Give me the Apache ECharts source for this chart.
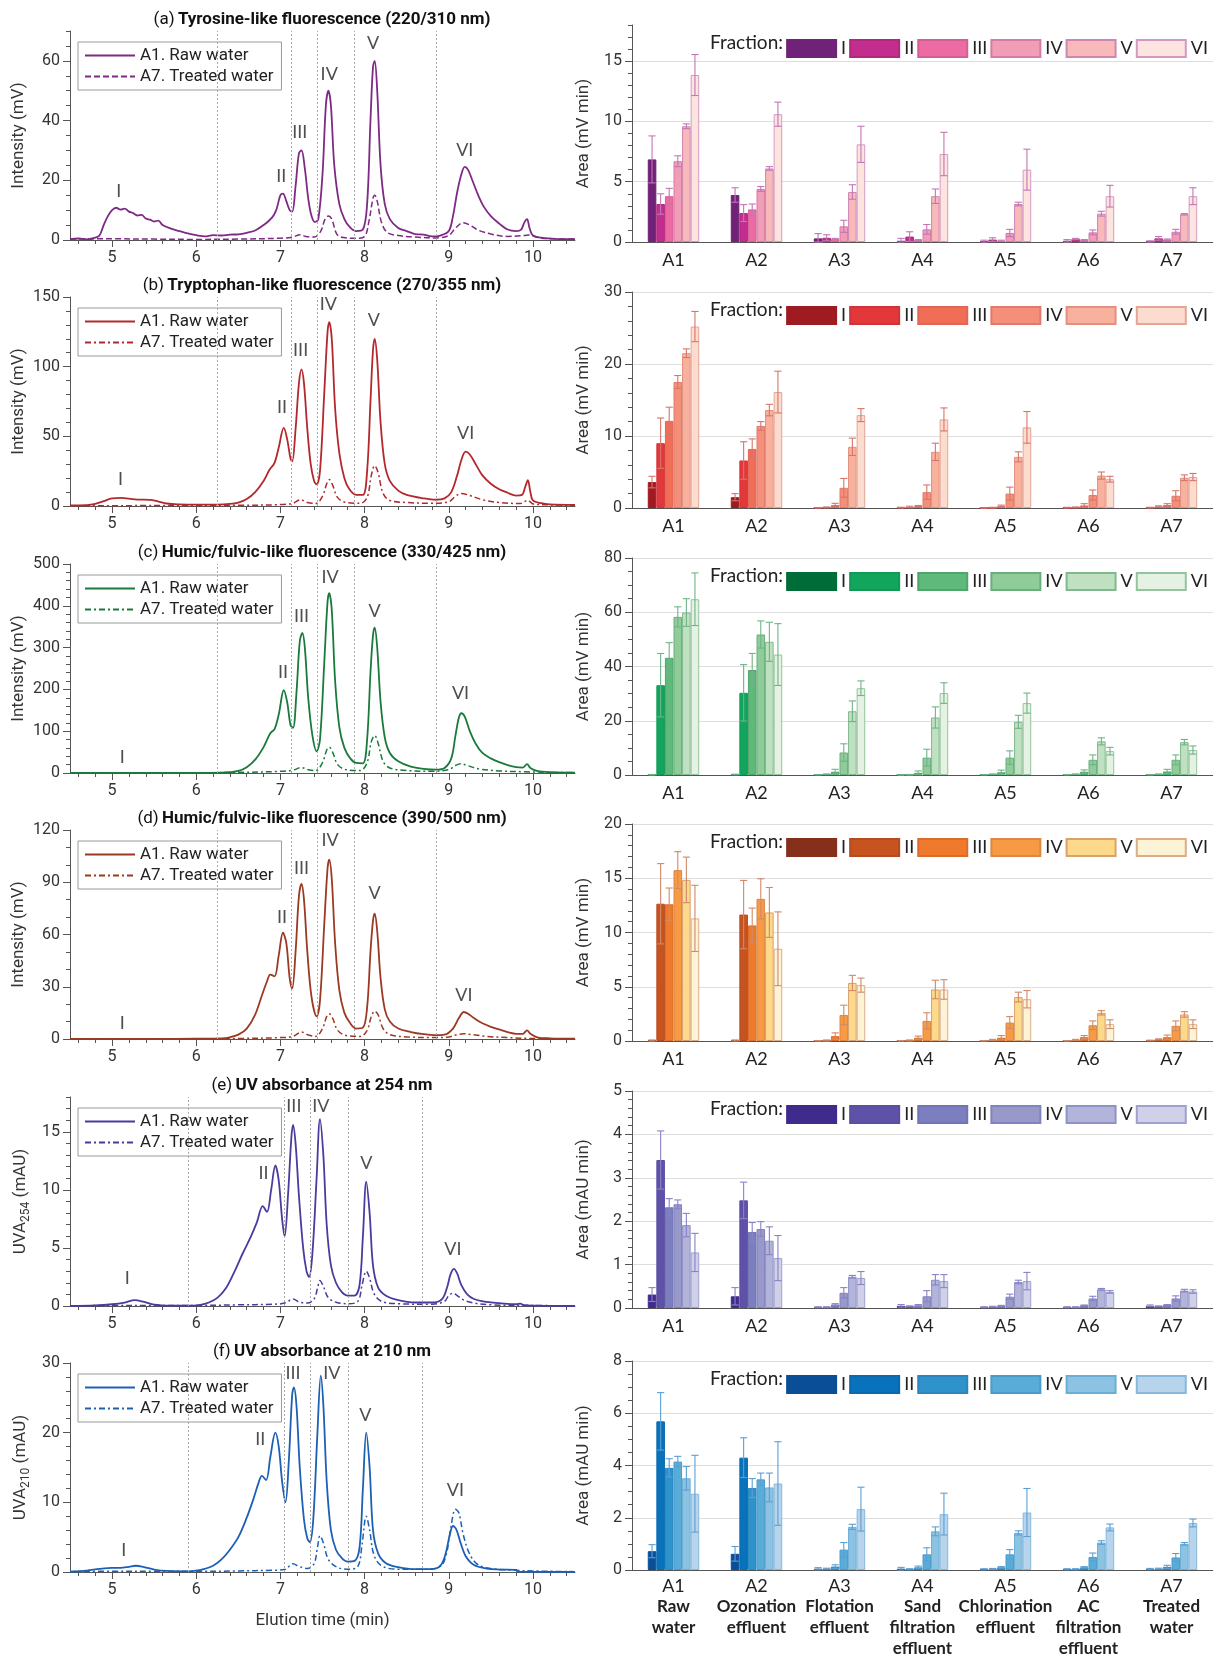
<!DOCTYPE html>
<html>
<head>
<meta charset="utf-8">
<script src="https://cdn.jsdelivr.net/npm/echarts@6/dist/echarts.min.js"></script>
<style>
  html, body { margin: 0; background: #fff; }
  #chart { width: 1213px; height: 1657px; }
</style>
</head>
<body>
<div id="chart"></div>
<script>
// ---- categories ----
const sites = ['A1', 'A2', 'A3', 'A4', 'A5', 'A6', 'A7'];
const siteNames = ['Raw\nwater', 'Ozonation\neffluent', 'Flotation\neffluent', 'Sand\nfiltration\neffluent',
    'Chlorination\neffluent', 'AC\nfiltration\neffluent', 'Treated\nwater'];
const fractions = ['I', 'II', 'III', 'IV', 'V', 'VI'];
const fluoCuts = [6.25, 7.13, 7.44, 7.88, 8.85];
const uvCuts = [5.9, 7.05, 7.35, 7.81, 8.68];
const timeTicks = [5, 6, 7, 8, 9, 10];

// ---- chromatograms [elution time, signal] ----
const tyrRaw = [[4.5,0.3],[4.6,0.5],[4.7,0.2],[4.8,0.8],[4.85,1.5],[4.9,5],[4.95,8],[5.0,10],[5.05,10.8],[5.1,10.2],[5.15,10.5],[5.2,9.5],[5.25,9.0],[5.3,8.2],[5.35,8.4],[5.4,7.2],[5.45,6.8],[5.5,6.2],[5.55,6.5],[5.6,5],[5.7,3.8],[5.8,3.0],[5.9,2.2],[6.0,1.6],[6.1,1.2],[6.2,1.6],[6.3,1.5],[6.4,1.8],[6.5,1.9],[6.6,2.4],[6.7,3.2],[6.8,5],[6.9,7.5],[6.95,10],[7.0,15],[7.03,15.5],[7.07,13],[7.11,10],[7.14,9.5],[7.18,18],[7.22,29],[7.25,30],[7.29,24],[7.33,14],[7.37,8],[7.41,6],[7.45,7],[7.5,22],[7.54,45],[7.57,50],[7.6,45],[7.64,25],[7.7,12],[7.76,7],[7.82,4.5],[7.9,3],[7.98,3.5],[8.03,12],[8.07,40],[8.1,58],[8.12,60],[8.15,50],[8.19,25],[8.24,12],[8.3,7],[8.4,4],[8.5,3],[8.6,2],[8.7,1.8],[8.8,1.2],[8.9,1.5],[9.0,3],[9.05,8],[9.1,16],[9.15,22],[9.19,24.5],[9.23,23.5],[9.28,20],[9.35,15],[9.42,11],[9.5,8],[9.6,5.5],[9.7,3.5],[9.8,3],[9.86,3.5],[9.9,6],[9.93,7],[9.96,4],[10.0,1.5],[10.1,0.8],[10.2,0.5],[10.3,0.3],[10.5,0.3]];
const tyrTreated = [[4.5,0.3],[5.0,0.4],[5.5,0.3],[6.0,0.2],[6.5,0.3],[7.0,0.6],[7.15,1],[7.23,1.8],[7.3,1.2],[7.4,1],[7.48,3],[7.53,7],[7.57,8],[7.61,7],[7.67,2],[7.75,0.8],[7.9,0.6],[8.0,1.2],[8.05,6],[8.1,14],[8.12,15],[8.15,13],[8.2,6],[8.27,2.5],[8.4,1.5],[8.6,1],[8.85,0.7],[9.0,1.5],[9.08,4],[9.17,5.8],[9.25,5],[9.35,3.3],[9.5,2],[9.7,1.2],[9.9,1.5],[9.95,1.7],[10.1,0.6],[10.5,0.3]];
const trpRaw = [[4.5,0.4],[4.7,0.6],[4.8,1.5],[4.9,3.5],[5.0,5.5],[5.1,5.8],[5.2,5.3],[5.3,4.6],[5.45,4.4],[5.55,3.2],[5.65,1.8],[5.8,1.2],[6.0,1.0],[6.25,1.0],[6.4,1.5],[6.5,2.5],[6.6,5],[6.7,10],[6.8,18],[6.87,26],[6.93,31],[6.98,42],[7.04,56],[7.08,48],[7.12,34],[7.14,32],[7.18,55],[7.22,88],[7.25,98],[7.28,88],[7.32,55],[7.36,30],[7.4,18],[7.43,15.5],[7.47,25],[7.52,80],[7.56,125],[7.58,132],[7.61,120],[7.65,70],[7.7,38],[7.76,20],[7.82,12],[7.9,8],[7.98,8],[8.03,25],[8.07,75],[8.1,112],[8.12,120],[8.15,105],[8.19,60],[8.24,30],[8.3,18],[8.4,11],[8.5,8],[8.7,5.5],[8.85,4.5],[8.95,5.5],[9.03,10],[9.1,22],[9.15,33],[9.2,39],[9.25,37],[9.32,30],[9.4,22],[9.5,16],[9.6,12],[9.7,9.5],[9.8,7.5],[9.87,8],[9.91,14],[9.94,18.5],[9.97,10],[10.0,4],[10.1,2],[10.2,1.2],[10.5,0.8]];
const trpTreated = [[4.5,0.2],[5.5,0.3],[6.5,0.5],[7.0,1.0],[7.15,2],[7.24,4.5],[7.32,2.5],[7.42,1.8],[7.5,7],[7.55,16],[7.58,19],[7.62,15],[7.68,6],[7.78,2.5],[7.95,2],[8.03,6],[8.08,22],[8.12,29],[8.16,24],[8.22,9],[8.3,4],[8.5,2.5],[8.8,2],[9.0,3],[9.08,7],[9.15,9],[9.25,7.5],[9.4,4.5],[9.6,2.5],[9.85,1.8],[9.94,4],[10.0,1.5],[10.2,0.8],[10.5,0.5]];
const humRaw = [[4.5,0],[5.0,0.5],[5.5,0.5],[6.0,0.5],[6.3,1],[6.4,2],[6.5,5],[6.6,14],[6.7,32],[6.8,62],[6.88,95],[6.93,105],[6.98,140],[7.04,198],[7.08,170],[7.12,115],[7.15,108],[7.19,190],[7.23,315],[7.26,335],[7.29,300],[7.33,180],[7.38,90],[7.43,52],[7.47,80],[7.52,260],[7.56,410],[7.58,430],[7.61,390],[7.65,220],[7.7,110],[7.76,60],[7.83,35],[7.9,24],[7.98,23],[8.03,80],[8.07,240],[8.1,330],[8.12,348],[8.15,300],[8.19,170],[8.24,85],[8.3,48],[8.4,28],[8.55,15],[8.7,10],[8.85,8],[8.95,12],[9.03,35],[9.08,90],[9.12,132],[9.15,143],[9.19,135],[9.25,100],[9.32,70],[9.4,48],[9.5,35],[9.6,26],[9.7,19],[9.8,14],[9.88,13],[9.93,21],[9.97,12],[10.05,5],[10.2,2],[10.5,1]];
const humTreated = [[4.5,0],[6.0,0.5],[6.5,1.5],[7.0,4],[7.15,7],[7.25,13],[7.33,8],[7.42,6],[7.5,25],[7.55,55],[7.58,62],[7.62,50],[7.68,20],[7.78,8],[7.95,6],[8.03,25],[8.08,75],[8.12,90],[8.16,72],[8.22,28],[8.3,12],[8.5,6],[8.8,4],[9.0,8],[9.08,18],[9.14,22],[9.22,18],[9.35,10],[9.6,5],[9.9,3],[10.2,1.5],[10.5,1]];
const hum2Raw = [[4.5,0],[5.5,0],[6.0,0.2],[6.3,0.4],[6.4,1],[6.5,2.5],[6.6,6],[6.7,14],[6.78,25],[6.84,33],[6.88,37],[6.93,36],[6.98,48],[7.03,61],[7.07,55],[7.11,35],[7.14,29],[7.18,50],[7.22,82],[7.25,89],[7.28,80],[7.32,50],[7.37,24],[7.43,13],[7.47,22],[7.52,65],[7.56,98],[7.58,103],[7.61,92],[7.65,55],[7.7,28],[7.76,15],[7.83,9],[7.9,6],[7.98,6.5],[8.03,18],[8.07,50],[8.1,68],[8.12,72],[8.15,62],[8.19,35],[8.24,17],[8.3,10],[8.4,6],[8.55,4],[8.7,2.8],[8.85,2.2],[8.95,2.5],[9.05,6],[9.12,12],[9.18,15.5],[9.23,14.5],[9.3,12],[9.4,9],[9.5,7],[9.6,5.5],[9.7,4],[9.8,3],[9.88,3],[9.93,5],[9.97,3],[10.05,1],[10.2,0.4],[10.5,0.2]];
const hum2Treated = [[4.5,0],[6.0,0],[6.5,0.3],[7.0,0.8],[7.15,1.5],[7.25,4],[7.33,2.3],[7.42,1.5],[7.5,6],[7.55,13],[7.58,14.5],[7.62,12],[7.68,5],[7.78,2],[7.95,1.5],[8.03,5],[8.08,13],[8.12,16],[8.16,14],[8.22,6],[8.3,2.5],[8.5,1.2],[8.8,0.8],[9.0,1.2],[9.1,2.5],[9.18,3],[9.28,2.5],[9.45,1.5],[9.7,0.8],[10.0,0.3],[10.5,0.1]];
const uva254Raw = [[4.5,0],[4.8,0.05],[5.0,0.15],[5.15,0.3],[5.27,0.5],[5.38,0.35],[5.5,0.12],[5.7,0.03],[5.9,0.02],[6.05,0.1],[6.15,0.3],[6.25,0.7],[6.35,1.5],[6.45,2.9],[6.55,4.5],[6.65,6],[6.72,7.2],[6.79,8.6],[6.84,8.1],[6.89,10],[6.94,12.1],[6.98,10.8],[7.02,7.5],[7.05,6],[7.09,9.5],[7.13,14.5],[7.15,15.6],[7.18,14],[7.22,9.5],[7.27,5],[7.31,3],[7.34,2.5],[7.38,4.5],[7.43,11],[7.47,16.1],[7.51,13],[7.55,7],[7.6,3.5],[7.66,2],[7.73,1.2],[7.8,0.9],[7.88,0.9],[7.94,1.8],[7.98,6],[8.02,10.7],[8.06,8],[8.1,3.5],[8.16,1.6],[8.25,0.9],[8.4,0.5],[8.6,0.3],[8.8,0.3],[8.92,0.6],[8.98,1.6],[9.02,2.7],[9.06,3.2],[9.1,2.8],[9.15,1.8],[9.22,1],[9.3,0.6],[9.45,0.35],[9.6,0.25],[9.8,0.15],[9.85,0.2],[9.9,0.05],[10.5,0]];
const uva254Treated = [[4.5,0],[5.0,0.05],[5.5,0.05],[6.0,0.05],[6.5,0.1],[6.9,0.15],[7.05,0.25],[7.15,0.6],[7.22,0.35],[7.32,0.25],[7.4,0.6],[7.44,1.5],[7.47,2.2],[7.51,1.7],[7.57,0.7],[7.67,0.3],[7.8,0.2],[7.92,0.4],[7.97,1.8],[8.02,3.0],[8.06,2.4],[8.11,1.1],[8.2,0.4],[8.4,0.2],[8.8,0.15],[8.95,0.4],[9.0,0.9],[9.05,1.1],[9.1,0.9],[9.18,0.5],[9.3,0.25],[9.5,0.1],[10.0,0.05],[10.5,0]];
const uva210Raw = [[4.5,0.05],[4.7,0.2],[4.85,0.45],[5.0,0.6],[5.1,0.6],[5.2,0.75],[5.28,0.9],[5.38,0.7],[5.5,0.35],[5.65,0.15],[5.9,0.1],[6.0,0.2],[6.1,0.45],[6.2,0.9],[6.3,1.8],[6.4,3.2],[6.5,5],[6.6,7.8],[6.68,10.5],[6.74,12.8],[6.78,13.8],[6.83,13.2],[6.88,16.5],[6.94,20],[6.98,18],[7.02,13],[7.06,10],[7.1,16],[7.14,25.5],[7.16,26.5],[7.19,24],[7.23,15],[7.28,7.5],[7.32,4.8],[7.35,4.3],[7.39,7.5],[7.44,20],[7.48,28.2],[7.51,24],[7.55,13],[7.6,6],[7.66,3.2],[7.73,2],[7.8,1.5],[7.88,1.6],[7.94,3.5],[7.98,12],[8.02,20],[8.06,15],[8.1,6],[8.16,2.7],[8.25,1.3],[8.4,0.7],[8.6,0.4],[8.8,0.4],[8.9,0.9],[8.96,2.5],[9.01,5.2],[9.05,6.6],[9.09,6.1],[9.14,4.2],[9.2,2.3],[9.3,1],[9.45,0.5],[9.6,0.35],[9.8,0.3],[9.82,0.05],[10.5,0.02]];
const uva210Treated = [[4.5,0.05],[5.0,0.1],[5.5,0.1],[6.0,0.1],[6.5,0.15],[6.9,0.25],[7.05,0.35],[7.15,1.2],[7.22,0.8],[7.32,0.5],[7.4,1.2],[7.44,3.5],[7.47,5.2],[7.51,4.2],[7.57,1.8],[7.67,0.7],[7.8,0.4],[7.92,0.8],[7.97,4],[8.02,8],[8.06,6],[8.11,2.5],[8.2,0.9],[8.4,0.4],[8.7,0.4],[8.9,0.8],[8.97,2.5],[9.02,6],[9.08,9],[9.12,8.5],[9.17,5.5],[9.24,2.8],[9.33,1.2],[9.45,0.6],[9.7,0.3],[10.0,0.15],[10.5,0.05]];

// ---- fraction labels over the peaks [time, signal, label] ----
const tyrPeaks = [[5.08,16.5,'I'],[7.01,21.5,'II'],[7.23,36,'III'],[7.58,55.5,'IV'],[8.1,66,'V'],[9.19,30,'VI']];
const trpPeaks = [[5.1,19,'I'],[7.02,71,'II'],[7.24,112,'III'],[7.57,145,'IV'],[8.11,133,'V'],[9.2,52,'VI']];
const humPeaks = [[5.12,39,'I'],[7.03,240,'II'],[7.25,374,'III'],[7.59,468,'IV'],[8.12,386,'V'],[9.14,191,'VI']];
const hum2Peaks = [[5.12,9.2,'I'],[7.02,70,'II'],[7.25,98,'III'],[7.59,114,'IV'],[8.12,84,'V'],[9.18,25,'VI']];
const uva254Peaks = [[5.18,2.4,'I'],[6.8,11.4,'II'],[7.16,17.2,'III'],[7.48,17.2,'IV'],[8.02,12.3,'V'],[9.05,4.9,'VI']];
const uva210Peaks = [[5.14,3.1,'I'],[6.76,19,'II'],[7.15,28.6,'III'],[7.61,28.5,'IV'],[8.01,22.5,'V'],[9.08,11.7,'VI']];

// ---- peak areas: rows = A1..A7, columns = fraction I..VI ----
const tyrMean = [[6.85,3.15,3.8,6.7,9.6,13.85],[3.9,2.4,2.7,4.4,6.1,10.6],[0.3,0.35,0.25,1.3,4.15,8.1],[0.1,0.45,0.15,1.05,3.8,7.3],[0.05,0.2,0.1,0.75,3.15,6.0],[0.1,0.25,0.15,0.8,2.35,3.8],[0.05,0.3,0.2,0.85,2.3,3.8]];
const tyrErr = [[1.95,0.85,0.65,0.45,0.2,1.7],[0.6,0.7,0.45,0.2,0.15,1.0],[0.4,0.25,0.05,0.5,0.6,1.5],[0.2,0.4,0.05,0.4,0.6,1.8],[0.1,0.15,0.05,0.3,0.15,1.7],[0.1,0.05,0.05,0.2,0.2,0.9],[0.05,0.15,0.05,0.2,0.05,0.7]];
const trpMean = [[3.6,9.0,12.1,17.5,21.5,25.2],[1.5,6.6,8.2,11.4,13.6,16.1],[0.02,0.1,0.4,2.8,8.5,12.9],[0.05,0.15,0.25,2.2,7.8,12.3],[0,0.05,0.25,2.0,7.1,11.2],[0.05,0.1,0.35,1.8,4.5,4.0],[0.05,0.2,0.4,1.7,4.2,4.3]];
const trpErr = [[0.8,3.5,1.9,0.9,0.6,2.1],[0.5,2.6,1.4,0.6,0.8,2.9],[0.02,0.05,0.25,1.3,1.2,0.9],[0.05,0.1,0.1,1.0,1.2,1.6],[0,0.05,0.15,0.9,0.7,2.2],[0.05,0.05,0.25,0.7,0.5,0.4],[0.05,0.1,0.2,0.7,0.4,0.5]];
const humMean = [[0.1,33.1,43.2,58.3,59.9,64.8],[0.2,30.3,38.7,51.8,49.1,44.4],[0.1,0.3,1.2,8.3,23.5,32.0],[0,0.1,0.8,6.4,21.2,30.2],[0.1,0.3,1.0,6.4,19.6,26.5],[0.1,0.3,1.2,5.6,12.4,8.8],[0.1,0.3,1.3,5.6,12.1,9.2]];
const humErr = [[0.1,11.7,5.6,3.7,5.1,9.7],[0.1,10.4,6.1,5.0,7.2,11.4],[0.05,0.1,0.9,3.2,3.8,2.7],[0,0.1,0.7,3.1,3.9,3.8],[0.05,0.1,0.8,2.5,2.4,3.7],[0.05,0.1,0.7,1.8,1.3,1.4],[0.05,0.1,0.8,1.8,1.0,1.5]];
const hum2Mean = [[0.05,12.65,12.6,15.75,14.85,11.3],[0.05,11.65,10.65,13.1,11.85,8.5],[0.02,0.05,0.45,2.4,5.35,5.15],[0.02,0.05,0.3,1.85,4.75,4.75],[0.02,0.1,0.3,1.7,4.05,3.85],[0.02,0.1,0.35,1.45,2.6,1.55],[0.05,0.15,0.35,1.4,2.45,1.55]];
const hum2Err = [[0.05,3.7,1.5,1.7,2.1,3.05],[0.05,3.15,1.6,1.85,2.3,3.4],[0.02,0.05,0.3,0.9,0.7,0.65],[0.02,0.05,0.15,0.75,0.85,0.9],[0.02,0.05,0.2,0.55,0.45,0.8],[0.02,0.05,0.15,0.4,0.2,0.4],[0.03,0.05,0.2,0.45,0.25,0.4]];
const uva254Mean = [[0.31,3.41,2.32,2.39,1.91,1.28],[0.27,2.48,1.75,1.82,1.55,1.15],[0.02,0.02,0.08,0.35,0.72,0.69],[0.05,0.04,0.06,0.27,0.65,0.62],[0.02,0.03,0.05,0.26,0.6,0.62],[0.02,0.02,0.06,0.22,0.43,0.37],[0.05,0.04,0.07,0.22,0.4,0.38]];
const uva254Err = [[0.16,0.67,0.2,0.1,0.27,0.44],[0.2,0.42,0.22,0.17,0.32,0.52],[0.01,0.01,0.02,0.12,0.03,0.15],[0.03,0.01,0.02,0.13,0.12,0.15],[0.01,0.01,0.01,0.06,0.04,0.2],[0.01,0.01,0.01,0.05,0.02,0.03],[0.02,0.01,0.01,0.06,0.03,0.04]];
const uva210Mean = [[0.72,5.69,3.91,4.15,3.51,2.92],[0.62,4.3,3.14,3.47,3.16,3.31],[0.05,0.05,0.13,0.78,1.65,2.33],[0.05,0.03,0.1,0.6,1.48,2.14],[0.03,0.04,0.1,0.6,1.42,2.2],[0.03,0.03,0.1,0.5,1.05,1.63],[0.04,0.05,0.12,0.48,1.0,1.8]];
const uva210Err = [[0.25,1.1,0.35,0.2,0.45,1.47],[0.28,0.76,0.36,0.24,0.55,1.6],[0.04,0.02,0.07,0.27,0.1,0.84],[0.05,0.02,0.05,0.25,0.17,0.8],[0.02,0.02,0.03,0.18,0.08,0.92],[0.02,0.02,0.03,0.15,0.07,0.13],[0.02,0.02,0.06,0.15,0.05,0.15]];

const FONT = 'Roboto, "DejaVu Sans", sans-serif';
const NARROW = 'Lato, Roboto, sans-serif';
const INK = '#333';
const AXIS = '#555';

const panels = [
    { tag: '(a)', title: 'Tyrosine-like fluorescence (220/310 nm)', raw: tyrRaw, trt: tyrTreated, peaks: tyrPeaks, cuts: fluoCuts,
      yName: 'Intensity (mV)', yGap: 43, yMax: 70, yStep: 20, yMinor: 5, line: '#7e2a84', trtDash: [6, 3],
      mean: tyrMean, err: tyrErr, aMax: 18, aStep: 5, aMinor: 1, aName: 'Area (mV min)',
      fill: ['#6f2277', '#c22d8e', '#ec6ba2', '#f29db6', '#f7b9b9', '#fde4de'],
      border: ['#6f2277', '#b0287f', '#d45f98', '#d67aa7', '#cf86b3', '#d29ac2'], errColor: '#c276b6' },
    { tag: '(b)', title: 'Tryptophan-like fluorescence (270/355 nm)', raw: trpRaw, trt: trpTreated, peaks: trpPeaks, cuts: fluoCuts,
      yName: 'Intensity (mV)', yGap: 43, yMax: 150, yStep: 50, yMinor: 10, line: '#b3282d', trtDash: [6, 3, 2, 3],
      mean: trpMean, err: trpErr, aMax: 30, aStep: 10, aMinor: 2, aName: 'Area (mV min)',
      fill: ['#9e1b22', '#e2383a', '#f06e55', '#f4907a', '#f8b19c', '#fcdccf'],
      border: ['#9e1b22', '#d0343a', '#e0665a', '#e07a6c', '#e2917e', '#e5a595'], errColor: '#d9746a' },
    { tag: '(c)', title: 'Humic/fulvic-like fluorescence (330/425 nm)', raw: humRaw, trt: humTreated, peaks: humPeaks, cuts: fluoCuts,
      yName: 'Intensity (mV)', yGap: 43, yMax: 500, yStep: 100, yMinor: 20, line: '#1a7a3c', trtDash: [6, 3, 2, 3],
      mean: humMean, err: humErr, aMax: 80, aStep: 20, aMinor: 5, aName: 'Area (mV min)',
      fill: ['#006d38', '#12a55c', '#5eb97b', '#8fcc9a', '#bfe0c1', '#e5f2e3'],
      border: ['#006d38', '#12995a', '#4fa66d', '#6aae7d', '#80b98c', '#94c49c'], errColor: '#6fb486' },
    { tag: '(d)', title: 'Humic/fulvic-like fluorescence (390/500 nm)', raw: hum2Raw, trt: hum2Treated, peaks: hum2Peaks, cuts: fluoCuts,
      yName: 'Intensity (mV)', yGap: 43, yMax: 120, yStep: 30, yMinor: 10, line: '#9b3a22', trtDash: [6, 3, 2, 3],
      mean: hum2Mean, err: hum2Err, aMax: 20, aStep: 5, aMinor: 1, aName: 'Area (mV min)',
      fill: ['#862f1a', '#c7531f', '#ef7a2b', '#f79a43', '#fdd98a', '#fff3d6'],
      border: ['#862f1a', '#b54c20', '#d96e2c', '#d98845', '#d9a070', '#d9ad8a'], errColor: '#cf8a68' },
    { tag: '(e)', title: 'UV absorbance at 254 nm', raw: uva254Raw, trt: uva254Treated, peaks: uva254Peaks, cuts: uvCuts,
      yName: '{a|UVA}{s|254}{a| (mAU)}', yGap: 38, yMax: 18, yStep: 5, yMinor: 1, line: '#4a3b9c', trtDash: [6, 3, 2, 3],
      mean: uva254Mean, err: uva254Err, aMax: 5, aStep: 1, aMinor: 0.2, aName: 'Area (mAU min)',
      fill: ['#3f2b8c', '#5e52a8', '#7b7fbf', '#9898c9', '#b2b4d9', '#d0d1e8'],
      border: ['#3f2b8c', '#5a4fa3', '#7274b6', '#8083bf', '#8f92c7', '#9ea0cf'], errColor: '#8a82c6' },
    { tag: '(f)', title: 'UV absorbance at 210 nm', raw: uva210Raw, trt: uva210Treated, peaks: uva210Peaks, cuts: uvCuts,
      yName: '{a|UVA}{s|210}{a| (mAU)}', yGap: 38, yMax: 30, yStep: 10, yMinor: 2, line: '#1c60b5', trtDash: [6, 3, 2, 3],
      mean: uva210Mean, err: uva210Err, aMax: 8, aStep: 2, aMinor: 0.5, aName: 'Area (mAU min)',
      fill: ['#0a4e98', '#0873bc', '#2d93ca', '#5aacd8', '#8dc3e2', '#b8d4ec'],
      border: ['#0a4e98', '#0a6aad', '#2a86bc', '#4a9bcb', '#6aaed5', '#86b9dd'], errColor: '#5b9fd5' },
];

// layout (pixels)
const leftTop = [31, 297, 564, 830, 1097, 1363];
const leftH = 209;
const rightTop = [25, 292, 558, 824, 1091, 1361];
const rightH = [217, 216, 217, 217, 217, 212];
const CAT_GAP = 0.38;

// tick positions from..to by step, optionally dropping multiples of skip
function stepValues(from, to, step, skip) {
    const out = [];
    const n = Math.round((to - from) / step);
    for (let i = 0; i <= n; i++) {
        const v = Math.round((from + i * step) * 1000) / 1000;
        if (skip && Math.abs(v / skip - Math.round(v / skip)) < 1e-6) continue;
        out.push(v);
    }
    return out;
}
const uniq = (s, k) => s + '\u200b'.repeat(k + 1);
const strip = (s) => s.replace(/\u200b/g, '');

const option = {
    animation: false,
    backgroundColor: '#fff',
    textStyle: { fontFamily: FONT },
    grid: [], xAxis: [], yAxis: [], series: [], legend: [], graphic: [],
};

panels.forEach((p, k) => {
    const last = k === panels.length - 1;

    // ---------- left: chromatogram ----------
    const gL = option.grid.length;
    option.grid.push({ left: 70, width: 505, top: leftTop[k], height: leftH });
    const xa = option.xAxis.length;
    option.xAxis.push({
        type: 'value', gridIndex: gL, position: 'bottom', min: 4.5, max: 10.5,
        axisLine: { lineStyle: { color: AXIS } },
        axisTick: { customValues: timeTicks, length: 7, lineStyle: { color: AXIS } },
        axisLabel: { customValues: timeTicks, fontSize: 16, color: INK, margin: 10 },
        splitLine: { show: false },
        name: last ? 'Elution time (min)' : '', nameLocation: 'middle', nameGap: 40,
        nameTextStyle: { fontSize: 17, color: INK },
    }, {
        type: 'value', gridIndex: gL, position: 'bottom', min: 4.5, max: 10.5,
        axisLine: { show: false },
        axisTick: { customValues: stepValues(4.6, 10.4, 0.2, 1), length: 4, lineStyle: { color: AXIS } },
        axisLabel: { show: false }, splitLine: { show: false },
    });
    const ya = option.yAxis.length;
    const yMajors = stepValues(0, p.yMax - (p.yMax % p.yStep), p.yStep);
    option.yAxis.push({
        type: 'value', gridIndex: gL, position: 'left', min: 0, max: p.yMax,
        axisLine: { show: true, lineStyle: { color: AXIS } },
        axisTick: { show: true, customValues: yMajors, length: 7, lineStyle: { color: AXIS } },
        axisLabel: { customValues: yMajors, fontSize: 16, color: INK, margin: 10 },
        splitLine: { show: false },
        name: p.yName, nameLocation: 'middle', nameGap: p.yGap,
        nameTextStyle: {
            fontSize: 17, color: INK,
            rich: {
                a: { fontSize: 17, color: INK, lineHeight: 22, fontFamily: FONT },
                s: { fontSize: 12, color: INK, lineHeight: 10, verticalAlign: 'bottom', fontFamily: FONT },
            },
        },
    }, {
        type: 'value', gridIndex: gL, position: 'left', min: 0, max: p.yMax,
        axisLine: { show: false },
        axisTick: { show: true, customValues: stepValues(0, p.yMax, p.yMinor, p.yStep), length: 4, lineStyle: { color: AXIS } },
        axisLabel: { show: false }, splitLine: { show: false },
    });

    const rawName = uniq('A1. Raw water', k);
    const trtName = uniq('A7. Treated water', k);
    option.series.push({
        type: 'line', name: rawName, xAxisIndex: xa, yAxisIndex: ya, data: p.raw,
        symbol: 'none', smooth: 0.35, z: 3,
        lineStyle: { color: p.line, width: 1.8 }, itemStyle: { color: 'rgba(0,0,0,0)' },
        markLine: {
            silent: true, symbol: 'none', label: { show: false },
            lineStyle: { color: '#aaaaaa', type: [2, 2], width: 1 },
            data: p.cuts.map((v) => ({ xAxis: v })),
        },
    }, {
        type: 'line', name: trtName, xAxisIndex: xa, yAxisIndex: ya, data: p.trt,
        symbol: 'none', smooth: 0.35, z: 4,
        lineStyle: { color: p.line, width: 1.5, type: p.trtDash }, itemStyle: { color: 'rgba(0,0,0,0)' },
    }, {
        type: 'scatter', xAxisIndex: xa, yAxisIndex: ya, data: p.peaks, silent: true,
        symbolSize: 1, itemStyle: { color: 'rgba(0,0,0,0)' },
        label: { show: true, position: 'inside', formatter: (d) => d.data[2], fontSize: 18, color: '#222', fontFamily: NARROW },
    });
    option.legend.push({
        data: [rawName, trtName], formatter: strip,
        orient: 'vertical', left: 78, top: leftTop[k] + 11,
        itemWidth: 50, itemHeight: 12, itemGap: 4,
        padding: [5, 8, 5, 6], borderColor: '#9a9a9a', borderWidth: 1, backgroundColor: '#fff',
        textStyle: { fontSize: 17, color: '#222', fontFamily: FONT },
    });
    option.graphic.push({
        type: 'text', x: 322, y: leftTop[k] - 11,
        style: {
            text: '{n|' + p.tag + '} {b|' + p.title + '}', align: 'center', verticalAlign: 'middle',
            rich: {
                n: { fontSize: 17, fontFamily: FONT, fill: '#111' },
                b: { fontSize: 17, fontWeight: 'bold', fontFamily: FONT, fill: '#111' },
            },
        },
    });

    // ---------- right: fraction areas ----------
    const gR = option.grid.length;
    option.grid.push({ left: 632, right: -8, top: rightTop[k], height: rightH[k] });
    const xb = option.xAxis.length;
    option.xAxis.push({
        type: 'category', gridIndex: gR, position: 'bottom', data: sites,
        axisLine: { lineStyle: { color: AXIS } }, axisTick: { show: false },
        axisLabel: last ? {
            margin: 7, interval: 0,
            formatter: (v, i) => '{s|' + v + '}\n{b|' + siteNames[i].split('\n').join('}\n{b|') + '}',
            rich: {
                s: { fontSize: 18, fontFamily: NARROW, color: '#222', lineHeight: 19 },
                b: { fontSize: 17, fontFamily: NARROW, fontWeight: 'bold', color: '#222', lineHeight: 21 },
            },
        } : { margin: 9, fontSize: 18, fontFamily: NARROW, color: '#222' },
    });
    const yb = option.yAxis.length;
    const aMajors = stepValues(0, p.aMax - (p.aMax % p.aStep), p.aStep);
    option.yAxis.push({
        type: 'value', gridIndex: gR, position: 'left', min: 0, max: p.aMax, interval: p.aStep,
        axisLine: { show: true, lineStyle: { color: AXIS } },
        axisTick: { show: true, customValues: aMajors, length: 7, lineStyle: { color: AXIS } },
        axisLabel: { customValues: aMajors, fontSize: 16, color: INK, margin: 10 },
        splitLine: { show: true, lineStyle: { color: '#dedede', width: 1.2 } },
        name: p.aName, nameLocation: 'middle', nameGap: 40,
        nameTextStyle: { fontSize: 17, color: INK },
    }, {
        type: 'value', gridIndex: gR, position: 'left', min: 0, max: p.aMax,
        axisLine: { show: false },
        axisTick: { show: true, customValues: stepValues(0, p.aMax, p.aMinor, p.aStep), length: 4, lineStyle: { color: AXIS } },
        axisLabel: { show: false }, splitLine: { show: false },
    });

    const fracNames = fractions.map((f) => uniq(f, k));
    fractions.forEach((f, fi) => {
        option.series.push({
            type: 'bar', name: fracNames[fi], xAxisIndex: xb, yAxisIndex: yb,
            data: p.mean.map((row) => row[fi]),
            barGap: '0%', barCategoryGap: (CAT_GAP * 100) + '%',
            itemStyle: { color: p.fill[fi], borderColor: p.border[fi], borderWidth: 1 },
        });
    });
    option.series.push({
        type: 'custom', xAxisIndex: xb, yAxisIndex: yb, z: 5, silent: true,
        data: p.mean.flatMap((row, i) => row.map((v, fi) => [i, v, p.err[i][fi], fi])),
        encode: { x: 0, y: 1 },
        renderItem: (params, api) => {
            const c = api.value(0), v = api.value(1), e = api.value(2), fi = api.value(3);
            const bw = api.size([1, 0])[0] * (1 - CAT_GAP) / fractions.length;
            const x = api.coord([c, 0])[0] + (fi - (fractions.length - 1) / 2) * bw;
            const yHi = api.coord([c, v + e])[1];
            const yLo = api.coord([c, Math.max(0, v - e)])[1];
            const h = bw * 0.42;
            const st = { stroke: p.errColor, lineWidth: 1.1 };
            return {
                type: 'group', children: [
                    { type: 'line', shape: { x1: x, y1: yLo, x2: x, y2: yHi }, style: st },
                    { type: 'line', shape: { x1: x - h, y1: yHi, x2: x + h, y2: yHi }, style: st },
                    { type: 'line', shape: { x1: x - h, y1: yLo, x2: x + h, y2: yLo }, style: st },
                ],
            };
        },
    });
    option.legend.push({
        data: fracNames, formatter: strip, icon: 'rect',
        right: 0, top: rightTop[k] + 9, itemWidth: 49, itemHeight: 17, itemGap: 3,
        textStyle: { fontSize: 18, color: '#222', fontFamily: NARROW },
    });
    option.graphic.push({
        type: 'text', x: 783, y: rightTop[k] + 9 + 9,
        style: { text: 'Fraction:', align: 'right', verticalAlign: 'middle', fontSize: 19, fontFamily: NARROW, fill: '#222' },
    });
});

const chart = echarts.init(document.getElementById('chart'), null, { renderer: 'canvas' });
chart.setOption(option);
</script>
</body>
</html>
